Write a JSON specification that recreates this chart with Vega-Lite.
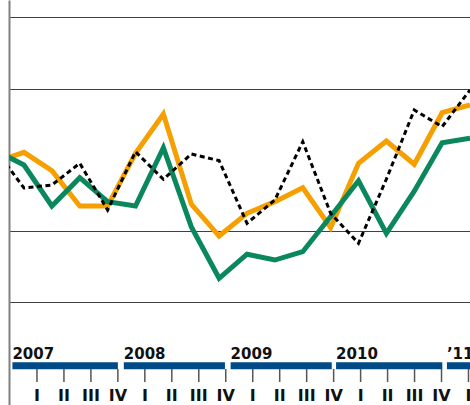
{
  "$schema": "https://vega.github.io/schema/vega-lite/v6.json",
  "width": 461,
  "height": 405,
  "autosize": {"type": "none"},
  "padding": {"left": 9, "top": 0, "right": 0, "bottom": 0},
  "background": "white",
  "config": {"view": {"stroke": null}},
  "datasets": {
    "lines": [
      {"t": 0, "series": "A", "value": -0.22}, {"t": 1, "series": "A", "value": 1.08}, {"t": 2, "series": "A", "value": -1.5},
      {"t": 3, "series": "A", "value": -6.46}, {"t": 4, "series": "A", "value": -6.46}, {"t": 5, "series": "A", "value": 0.94},
      {"t": 6, "series": "A", "value": 6.46}, {"t": 7, "series": "A", "value": -6.18}, {"t": 8, "series": "A", "value": -10.67},
      {"t": 9, "series": "A", "value": -7.48}, {"t": 10, "series": "A", "value": -5.85}, {"t": 11, "series": "A", "value": -3.89},
      {"t": 12, "series": "A", "value": -9.5}, {"t": 13, "series": "A", "value": -0.46}, {"t": 14, "series": "A", "value": 2.67},
      {"t": 15, "series": "A", "value": -0.6}, {"t": 16, "series": "A", "value": 6.64}, {"t": 17, "series": "A", "value": 7.72},
      {"t": 0, "series": "B", "value": 1.3}, {"t": 1, "series": "B", "value": -0.7}, {"t": 2, "series": "B", "value": -6.46},
      {"t": 3, "series": "B", "value": -2.48}, {"t": 4, "series": "B", "value": -5.85}, {"t": 5, "series": "B", "value": -6.46},
      {"t": 6, "series": "B", "value": 1.73}, {"t": 7, "series": "B", "value": -9.36}, {"t": 8, "series": "B", "value": -16.6},
      {"t": 9, "series": "B", "value": -13.22}, {"t": 10, "series": "B", "value": -14.04}, {"t": 11, "series": "B", "value": -12.87},
      {"t": 12, "series": "B", "value": -7.92}, {"t": 13, "series": "B", "value": -2.91}, {"t": 14, "series": "B", "value": -10.29},
      {"t": 15, "series": "B", "value": -4.38}, {"t": 16, "series": "B", "value": 2.43}, {"t": 17, "series": "B", "value": 3.05},
      {"t": 0, "series": "C", "value": 1.29}, {"t": 1, "series": "C", "value": -3.93}, {"t": 2, "series": "C", "value": -3.51},
      {"t": 3, "series": "C", "value": -0.46}, {"t": 4, "series": "C", "value": -7.02}, {"t": 5, "series": "C", "value": 1.16},
      {"t": 6, "series": "C", "value": -2.71}, {"t": 7, "series": "C", "value": 0.84}, {"t": 8, "series": "C", "value": -0.09},
      {"t": 9, "series": "C", "value": -8.88}, {"t": 10, "series": "C", "value": -5.61}, {"t": 11, "series": "C", "value": 2.57},
      {"t": 12, "series": "C", "value": -7.48}, {"t": 13, "series": "C", "value": -11.69}, {"t": 14, "series": "C", "value": -2.69},
      {"t": 15, "series": "C", "value": 7.02}, {"t": 16, "series": "C", "value": 4.67}, {"t": 17, "series": "C", "value": 9.82}
    ],
    "quarters": [
      {"q": 1, "label": "I"}, {"q": 2, "label": "II"}, {"q": 3, "label": "III"}, {"q": 4, "label": "IV"},
      {"q": 5, "label": "I"}, {"q": 6, "label": "II"}, {"q": 7, "label": "III"}, {"q": 8, "label": "IV"},
      {"q": 9, "label": "I"}, {"q": 10, "label": "II"}, {"q": 11, "label": "III"}, {"q": 12, "label": "IV"},
      {"q": 13, "label": "I"}, {"q": 14, "label": "II"}, {"q": 15, "label": "III"}, {"q": 16, "label": "IV"},
      {"q": 17, "label": "I"}
    ],
    "years": [
      {"year": "2007", "start": 0.09, "end": 4.0},
      {"year": "2008", "start": 4.22, "end": 7.97},
      {"year": "2009", "start": 8.18, "end": 11.93},
      {"year": "2010", "start": 12.09, "end": 16.03},
      {"year": "’11", "start": 16.2, "end": 17.5}
    ]
  },
  "layer": [
    {
      "layer": [
        {
          "data": {"name": "lines"},
          "transform": [{"filter": "datum.series === 'A'"}],
          "mark": {"type": "line", "color": "#F5A000", "strokeWidth": 5, "clip": true},
          "encoding": {
            "x": {"field": "t", "type": "quantitative", "scale": {"domain": [0.4619, 17], "nice": false, "zero": false}, "axis": null},
            "y": {"field": "value", "type": "quantitative", "scale": {"domain": [-34.386, 22.456], "nice": false, "zero": false},
              "axis": {"title": null, "values": [20, 10, -10, -20], "labels": false, "ticks": false, "domain": true, "domainColor": "#808080", "domainWidth": 2, "grid": true, "gridColor": "#404040", "gridWidth": 1.2}}
          }
        },
        {
          "mark": {"type": "rule", "color": "#000000", "strokeWidth": 2},
          "encoding": {"y": {"datum": 0, "type": "quantitative"}}
        },
        {
          "data": {"name": "lines"},
          "transform": [{"filter": "datum.series === 'B'"}],
          "mark": {"type": "line", "color": "#0A875C", "strokeWidth": 5, "clip": true},
          "encoding": {
            "x": {"field": "t", "type": "quantitative"},
            "y": {"field": "value", "type": "quantitative"}
          }
        },
        {
          "data": {"name": "lines"},
          "transform": [{"filter": "datum.series === 'C'"}],
          "mark": {"type": "line", "color": "#000000", "strokeWidth": 3, "strokeDash": [5, 3.5], "clip": true},
          "encoding": {
            "x": {"field": "t", "type": "quantitative"},
            "y": {"field": "value", "type": "quantitative"}
          }
        }
      ]
    },
    {
      "layer": [
        {
          "data": {"name": "years"},
          "mark": {"type": "rect", "color": "#004B87", "clip": true},
          "encoding": {
            "x": {"field": "start", "type": "quantitative", "scale": {"domain": [-0.037, 17.056], "nice": false, "zero": false}, "axis": null},
            "x2": {"field": "end"},
            "y": {"datum": -28.39, "type": "quantitative"},
            "y2": {"datum": -29.38}
          }
        },
        {
          "data": {"name": "years"},
          "mark": {"type": "text", "align": "left", "baseline": "alphabetic", "font": "DejaVu Sans", "fontWeight": "bold", "fontSize": 15, "color": "#111111"},
          "encoding": {
            "x": {"field": "start", "type": "quantitative"},
            "y": {"datum": -28.0, "type": "quantitative"},
            "text": {"field": "year"}
          }
        },
        {
          "data": {"name": "quarters"},
          "mark": {"type": "rule", "color": "#555555", "strokeWidth": 1.5},
          "encoding": {
            "x": {"field": "q", "type": "quantitative"},
            "y": {"datum": -29.33, "type": "quantitative"},
            "y2": {"datum": -31.16}
          }
        },
        {
          "data": {"name": "quarters"},
          "mark": {"type": "text", "align": "center", "baseline": "alphabetic", "font": "DejaVu Sans", "fontWeight": "bold", "fontSize": 16, "color": "#111111"},
          "encoding": {
            "x": {"field": "q", "type": "quantitative"},
            "y": {"datum": -33.8, "type": "quantitative"},
            "text": {"field": "label"}
          }
        }
      ]
    }
  ],
  "resolve": {"scale": {"x": "independent"}}
}
